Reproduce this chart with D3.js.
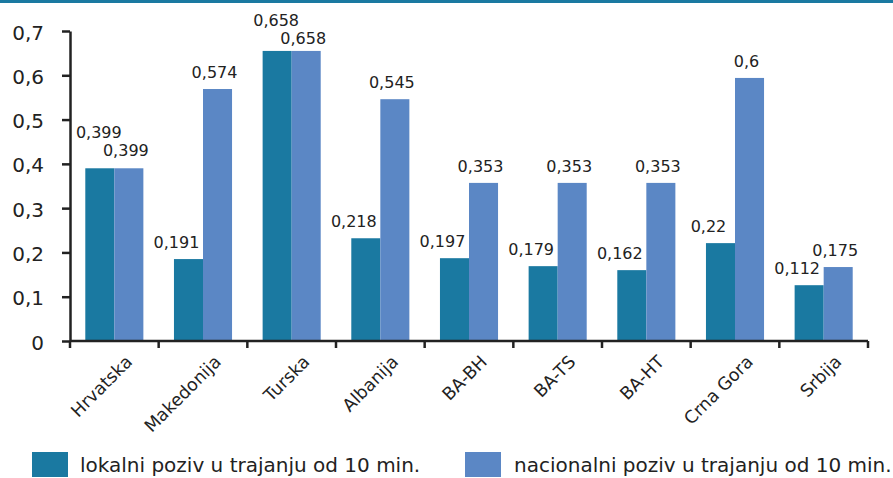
<!DOCTYPE html>
<html><head><meta charset="utf-8">
<script src="https://cdn.jsdelivr.net/npm/d3@7"></script>
<style>
html,body{margin:0;padding:0;background:#fff;}
svg{display:block;font-family:"DejaVu Sans",sans-serif;}
</style></head>
<body>
<svg id="chart" width="893" height="478"></svg>
<script>
// ---- data ----
const categories = ["Hrvatska","Makedonija","Turska","Albanija","BA-BH","BA-TS","BA-HT","Crna Gora","Srbija"];
const seriesNames = ["lokalni poziv u trajanju od 10 min.","nacionalni poziv u trajanju od 10 min."];
const localValues = [0.390, 0.185, 0.655, 0.232, 0.187, 0.169, 0.160, 0.221, 0.126];
const nationalValues = [0.390, 0.569, 0.655, 0.546, 0.357, 0.357, 0.357, 0.594, 0.167];
const localLabels = ["0,399","0,191","0,658","0,218","0,197","0,179","0,162","0,22","0,112"];
const nationalLabels = ["0,399","0,574","0,658","0,545","0,353","0,353","0,353","0,6","0,175"];
const yTicks = [0,0.1,0.2,0.3,0.4,0.5,0.6,0.7];
const yTickLabels = ["0","0,1","0,2","0,3","0,4","0,5","0,6","0,7"];

const colors = ["#1a79a1","#5b87c5"];
const svg = d3.select("#chart");
const W = 893, H = 478;
const plot = {left:70, right:868, top:31, bottom:341};

// top border
svg.append("rect").attr("x",0).attr("y",0).attr("width",W).attr("height",3).attr("fill","#1a79a1");

const x = d3.scaleBand().domain(categories).range([plot.left, plot.right]).padding(0);
const y = d3.scaleLinear().domain([0,0.7]).range([plot.bottom, plot.top]);
const groupW = x.bandwidth()*0.655;
const x1 = d3.scaleBand().domain([0,1]).range([0, groupW]).padding(0);

const data = categories.map((c,i)=>({c, vals:[localValues[i], nationalValues[i]], labs:[localLabels[i], nationalLabels[i]]}));

// bars
const g = svg.append("g");
data.forEach(d=>{
  const gx = x(d.c) + (x.bandwidth()-groupW)/2;
  d.vals.forEach((v,k)=>{
    g.append("rect")
      .attr("x", gx + x1(k))
      .attr("y", y(v))
      .attr("width", x1.bandwidth())
      .attr("height", y(0)-y(v))
      .attr("fill", colors[k]);
  });
  // labels
  const c0 = gx + x1(0) + x1.bandwidth()/2;
  const c1 = gx + x1(1) + x1.bandwidth()/2;
  const t0 = y(d.vals[0]), t1 = y(d.vals[1]);
  let p0, p1;
  if (d.labs[0] === d.labs[1]) {
    const yy = Math.max(t0-30, 26);
    p0 = [c0-1, yy];
    p1 = [c1-3, yy+18];
  } else {
    p0 = [c0-12, t0-11];
    p1 = [c1-3, t1-11];
  }
  [p0,p1].forEach((p,k)=>{
    g.append("text").attr("x",p[0]).attr("y",p[1])
      .attr("text-anchor","middle").attr("font-size",16).attr("fill","#222")
      .text(d.labs[k]);
  });
});

// y axis
const yAxis = d3.axisLeft(y).tickValues(yTicks).tickFormat((d,i)=>yTickLabels[i]).tickSize(8).tickSizeOuter(0);
const ya = svg.append("g").attr("transform",`translate(${plot.left},0)`).call(yAxis);
ya.select(".domain").attr("stroke","#222").attr("stroke-width",2.5);
ya.selectAll(".tick line").attr("stroke","#222").attr("stroke-width",2.5);
ya.selectAll(".tick text").attr("font-size",20).attr("fill","#222").attr("font-family","DejaVu Sans, sans-serif").attr("x",-26).attr("dy","0.4em");

// x axis
const xa = svg.append("g").attr("transform",`translate(0,${plot.bottom})`);
xa.append("line").attr("x1",plot.left).attr("x2",plot.right).attr("stroke","#222").attr("stroke-width",2.5);
const bounds = categories.map(c=>x(c)).concat([x(categories[categories.length-1])+x.bandwidth()]);
xa.selectAll("line.tk").data(bounds).enter().append("line").attr("class","tk")
  .attr("x1",d=>d).attr("x2",d=>d).attr("y1",0).attr("y2",7).attr("stroke","#222").attr("stroke-width",2.5);
xa.selectAll("text").data(categories).enter().append("text")
  .attr("transform",c=>`translate(${x(c)+x.bandwidth()/2+19},${22}) rotate(-45)`)
  .attr("text-anchor","end").attr("font-size",17.5).attr("fill","#222").text(c=>c);

// legend
const legend = [{x:32, tx:80},{x:465, tx:514}];
legend.forEach((l,k)=>{
  svg.append("rect").attr("x",l.x).attr("y",452).attr("width",36).attr("height",25).attr("fill",colors[k]);
  svg.append("text").attr("x",l.tx).attr("y",472).attr("font-size",20).attr("fill","#222").text(seriesNames[k]);
});
</script>
</body></html>
